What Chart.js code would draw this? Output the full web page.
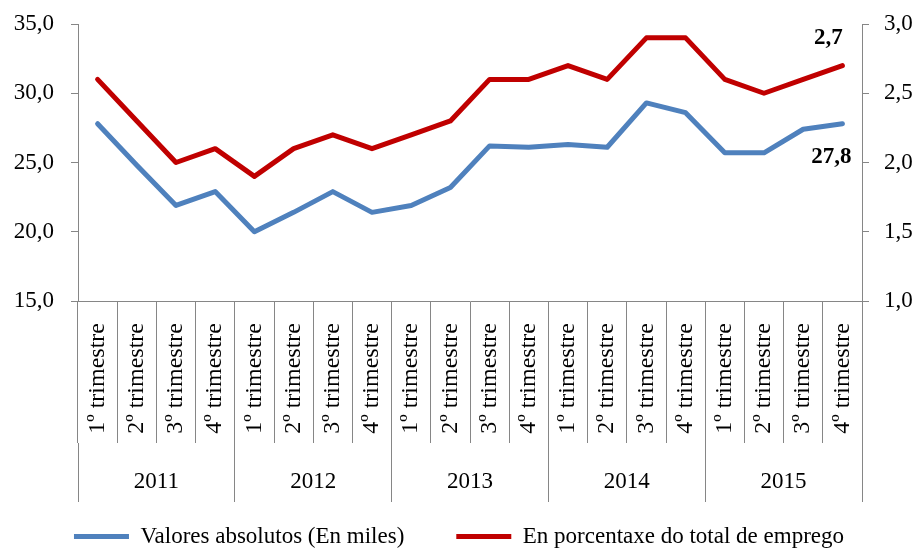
<!DOCTYPE html>
<html>
<head>
<meta charset="utf-8">
<script src="https://cdn.jsdelivr.net/npm/chart.js@4"></script>
<style>
  html, body { margin: 0; padding: 0; background: #fff; }
  #wrap { width: 918px; height: 548px; }
</style>
</head>
<body>
<div id="wrap"><canvas id="chart"></canvas></div>
<script>
const quarters = [
    '1º trimestre', '2º trimestre', '3º trimestre', '4º trimestre',
    '1º trimestre', '2º trimestre', '3º trimestre', '4º trimestre',
    '1º trimestre', '2º trimestre', '3º trimestre', '4º trimestre',
    '1º trimestre', '2º trimestre', '3º trimestre', '4º trimestre',
    '1º trimestre', '2º trimestre', '3º trimestre', '4º trimestre'
];
const years = ['2011', '2012', '2013', '2014', '2015'];

// Valores absolutos (En miles) - left axis
const absoluteValues = [27.8, 24.8, 21.9, 22.9, 20.0, 21.4, 22.9, 21.4, 21.9, 23.2,
                        26.2, 26.1, 26.3, 26.1, 29.3, 28.6, 25.7, 25.7, 27.4, 27.8];
// En porcentaxe do total de emprego - right axis
const percentValues = [2.6, 2.3, 2.0, 2.1, 1.9, 2.1, 2.2, 2.1, 2.2, 2.3,
                       2.6, 2.6, 2.7, 2.6, 2.9, 2.9, 2.6, 2.5, 2.6, 2.7];

const leftTicks = [15, 20, 25, 30, 35];
const rightTicks = [1.0, 1.5, 2.0, 2.5, 3.0];

const axisGray = '#868686';
const fontFamily = '"Liberation Serif", "Times New Roman", serif';
const comma = v => Number(v).toFixed(1).replace('.', ',');

// bold value next to the last point of each line
const endLabels = {
    id: 'endLabels',
    afterDatasetsDraw(chart) {
        const ctx = chart.ctx;
        ctx.save();
        ctx.font = 'bold 23px ' + fontFamily;
        ctx.fillStyle = '#000';
        ctx.textAlign = 'center';
        ctx.textBaseline = 'middle';
        chart.data.datasets.forEach((ds, i) => {
            const pts = chart.getDatasetMeta(i).data;
            const last = pts[pts.length - 1];
            const off = ds.endLabelOffset;
            ctx.fillText(comma(ds.data[ds.data.length - 1]), last.x + off[0], last.y + off[1]);
        });
        ctx.restore();
    }
};

new Chart(document.getElementById('chart'), {
    type: 'line',
    data: {
        labels: quarters,
        datasets: [
            {
                label: 'Valores absolutos (En miles)',
                data: absoluteValues,
                xAxisID: 'x',
                yAxisID: 'y',
                borderColor: '#4F81BD',
                backgroundColor: '#4F81BD',
                borderWidth: 5,
                borderJoinStyle: 'round',
                borderCapStyle: 'round',
                pointRadius: 0,
                tension: 0,
                endLabelOffset: [-11, 33]
            },
            {
                label: 'En porcentaxe do total de emprego',
                data: percentValues,
                xAxisID: 'x',
                yAxisID: 'y2',
                borderColor: '#C00000',
                backgroundColor: '#C00000',
                borderWidth: 5,
                borderJoinStyle: 'round',
                borderCapStyle: 'round',
                pointRadius: 0,
                tension: 0,
                endLabelOffset: [-14, -27]
            }
        ]
    },
    options: {
        responsive: true,
        maintainAspectRatio: false,
        animation: false,
        layout: { padding: { top: 24, left: 0, right: 0, bottom: -10 } },
        scales: {
            x: {
                position: 'bottom',
                offset: true,
                grid: { offset: true, drawOnChartArea: false, drawTicks: true, tickLength: 142, color: axisGray },
                border: { display: true, color: axisGray },
                ticks: {
                    autoSkip: false, minRotation: 90, maxRotation: 90, padding: -120,
                    color: '#000', font: { family: fontFamily, size: 24 }
                },
                afterFit(scale) { scale.height = 142; }
            },
            x2: {
                type: 'category',
                position: 'bottom',
                labels: years,
                offset: true,
                grid: { offset: true, drawOnChartArea: false, drawTicks: true, tickLength: 59, color: axisGray },
                border: { display: false },
                ticks: {
                    autoSkip: false, maxRotation: 0, mirror: true, padding: -53,
                    color: '#000', font: { family: fontFamily, size: 23 }
                },
                afterFit(scale) { scale.height = 30; }
            },
            y: {
                position: 'left',
                min: leftTicks[0],
                max: leftTicks[leftTicks.length - 1],
                afterBuildTicks(scale) { scale.ticks = leftTicks.map(v => ({ value: v })); },
                grid: { drawOnChartArea: false, drawTicks: true, tickLength: 7, color: axisGray },
                border: { display: true, color: axisGray },
                ticks: {
                    padding: 17, color: '#000', font: { family: fontFamily, size: 23 },
                    callback: v => comma(v)
                },
                afterFit(scale) {
                    scale.width = 78;
                    scale.paddingTop = 0;
                    scale.paddingBottom = 0;
                }
            },
            y2: {
                position: 'right',
                min: rightTicks[0],
                max: rightTicks[rightTicks.length - 1],
                afterBuildTicks(scale) { scale.ticks = rightTicks.map(v => ({ value: v })); },
                grid: { drawOnChartArea: false, drawTicks: true, tickLength: 7, color: axisGray },
                border: { display: true, color: axisGray },
                ticks: {
                    padding: 15, color: '#000', font: { family: fontFamily, size: 23 },
                    callback: v => comma(v)
                },
                afterFit(scale) {
                    scale.width = 56;
                    scale.paddingTop = 0;
                    scale.paddingBottom = 0;
                }
            }
        },
        plugins: {
            legend: {
                position: 'bottom',
                labels: {
                    usePointStyle: true,
                    pointStyle: 'line',
                    pointStyleWidth: 55,
                    padding: 52,
                    color: '#000',
                    font: { family: fontFamily, size: 23 }
                }
            },
            tooltip: { enabled: false }
        }
    },
    plugins: [endLabels]
});
</script>
</body>
</html>
